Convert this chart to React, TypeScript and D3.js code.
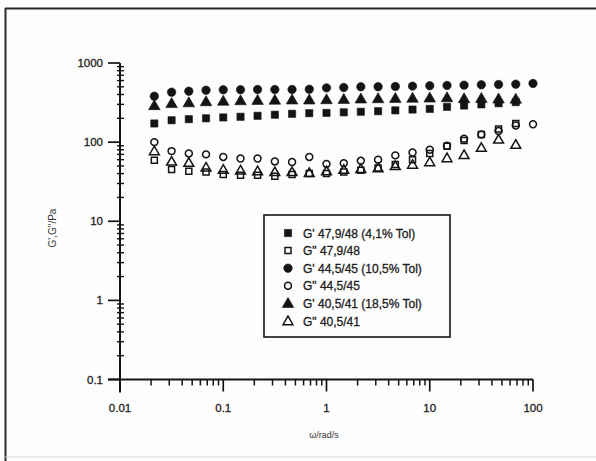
import React from "react";
import * as d3 from "d3";

// angular frequency (rad/s)
const omega = [0.0215, 0.0316, 0.0464, 0.0681, 0.1, 0.147, 0.215, 0.316, 0.464, 0.681, 1, 1.47, 2.15, 3.16, 4.64, 6.81, 10, 14.7, 21.5, 31.6, 46.4, 68.1, 100];

// G' 47,9/48 (filled squares)
const gp479 = [172, 189, 195, 200, 205, 209, 215, 222, 228, 232, 234, 238, 242, 246, 252, 258, 263, 279, 290, 300, 310, 320];
// G'' 47,9/48 (open squares)
const gpp479 = [59, 45, 43, 42, 39, 38, 38, 37, 39, 40, 40, 42, 44, 47, 52, 60, 72, 89, 105, 125, 147, 172];
// G' 44,5/45 (filled circles)
const gp445 = [380, 428, 440, 453, 458, 460, 462, 462, 463, 465, 485, 490, 500, 502, 505, 510, 515, 520, 525, 530, 535, 540, 551];
// G'' 44,5/45 (open circles)
const gpp445 = [100, 77, 72, 70, 65, 62, 62, 57, 56, 65, 53, 54, 58, 60, 68, 74, 80, 90, 110, 125, 138, 162, 168];
// G' 40,5/41 (filled triangles)
const gp405 = [290, 308, 315, 325, 330, 335, 338, 340, 342, 342, 345, 348, 352, 355, 358, 360, 362, 365, 355, 358, 352, 350];
// G'' 40,5/41 (open triangles)
const gpp405 = [77, 57, 55, 48, 45, 44, 43, 42, 42, 41, 43, 45, 46, 47, 50, 52, 56, 63, 69, 85, 108, 93];

const legendLabels = [
  "G' 47,9/48 (4,1% Tol)",
  "G\" 47,9/48",
  "G' 44,5/45 (10,5% Tol)",
  "G\" 44,5/45",
  "G' 40,5/41 (18,5% Tol)",
  "G\" 40,5/41",
];

const xTicks = [0.01, 0.1, 1, 10, 100];
const xTickLabels = ["0.01", "0.1", "1", "10", "100"];
const yTicks = [0.1, 1, 10, 100, 1000];
const yTickLabels = ["0.1", "1", "10", "100", "1000"];

const xTitle = "\u03c9/rad/s";
const yTitle = "G',G\"/Pa";

type Shape = "square" | "circle" | "triangle";

const series: { values: number[]; shape: Shape; filled: boolean }[] = [
  { values: gp479, shape: "square", filled: true },
  { values: gpp479, shape: "square", filled: false },
  { values: gp445, shape: "circle", filled: true },
  { values: gpp445, shape: "circle", filled: false },
  { values: gp405, shape: "triangle", filled: true },
  { values: gpp405, shape: "triangle", filled: false },
];

const INK = "#141414";

function symbolPath(shape: Shape, filled: boolean): string {
  const t = shape === "square" ? d3.symbolSquare : shape === "circle" ? d3.symbolCircle : d3.symbolTriangle;
  const size = shape === "square" ? (filled ? 52 : 36) : shape === "circle" ? (filled ? 56 : 38) : filled ? 58 : 42;
  return d3.symbol().type(t).size(size)() as string;
}

function Marker({ x, y, shape, filled }: { x: number; y: number; shape: Shape; filled: boolean }) {
  const dy = shape === "triangle" ? 0.8 : 0;
  return (
    <path
      d={symbolPath(shape, filled)}
      transform={`translate(${x},${y + dy})`}
      fill={filled ? INK : "none"}
      stroke={INK}
      strokeWidth={filled ? 0.6 : 1.5}
    />
  );
}

export default function App() {
  const W = 596;
  const H = 461;
  const x = d3.scaleLog().domain([0.01, 100]).range([120, 533]);
  const y = d3.scaleLog().domain([0.1, 1000]).range([379.5, 63]);

  const xMinor = x.ticks().filter((v) => !xTicks.some((t) => Math.abs(t - v) / t < 1e-6));
  const yMinor = y.ticks().filter((v) => !yTicks.some((t) => Math.abs(t - v) / t < 1e-6));

  const x0 = x.range()[0];
  const yBase = y.range()[0];
  const font = "'Liberation Sans', Arial, sans-serif";
  const txtStroke = { stroke: "#222", strokeWidth: 0.3 };

  const lgX = 264;
  const lgY = 215;
  const lgW = 186;
  const lgH = 122;

  return (
    <div style={{ position: "absolute", left: 0, top: 0 }}>
      <svg width={W} height={H} viewBox={`0 0 ${W} ${H}`} style={{ display: "block", background: "#fff" }}>
        <rect x={0} y={0} width={W} height={H} fill="#fdfdfd" />
        {/* scanned frame */}
        <line x1={5} y1={8.5} x2={W} y2={8.5} stroke="#2a2a2a" strokeWidth={1.8} />
        <line x1={5.5} y1={8} x2={5.5} y2={H} stroke="#2a2a2a" strokeWidth={2} />
        <line x1={5} y1={457} x2={W} y2={457} stroke="#d4d4d4" strokeWidth={1} />

        {/* axes */}
        <line x1={x0} y1={y(1000)} x2={x0} y2={yBase + 13} stroke={INK} strokeWidth={2} />
        <line x1={x0 - 12} y1={yBase} x2={x(100)} y2={yBase} stroke={INK} strokeWidth={2} />

        {/* x ticks */}
        {xTicks.map((t) => (
          <line key={"xM" + t} x1={x(t)} x2={x(t)} y1={yBase} y2={yBase + 12} stroke={INK} strokeWidth={1.7} />
        ))}
        {xMinor.map((t) => (
          <line key={"xm" + t} x1={x(t)} x2={x(t)} y1={yBase} y2={yBase + 6} stroke={INK} strokeWidth={1.5} />
        ))}
        {xTicks.map((t, i) => (
          <text key={"xl" + t} x={x(t)} y={412} textAnchor="middle" fontFamily={font} fontSize={11.5} fill="#222" {...txtStroke}>
            {xTickLabels[i]}
          </text>
        ))}

        {/* y ticks */}
        {yTicks.map((t) => (
          <line key={"yM" + t} x1={x0 - 12} x2={x0} y1={y(t)} y2={y(t)} stroke={INK} strokeWidth={1.7} />
        ))}
        {yMinor.map((t) => (
          <line key={"ym" + t} x1={x0 - 3} x2={x0 + 4} y1={y(t)} y2={y(t)} stroke={INK} strokeWidth={1.4} />
        ))}
        {yTicks.map((t, i) => (
          <text key={"yl" + t} x={103} y={y(t) + 4} textAnchor="end" fontFamily={font} fontSize={11.5} fill="#222" {...txtStroke}>
            {yTickLabels[i]}
          </text>
        ))}

        {/* axis titles */}
        <text x={W / 2 + 26} y={438} textAnchor="middle" fontFamily={font} fontSize={9} fill="#333">
          {xTitle}
        </text>
        <text
          transform={`translate(56,228) rotate(-90)`}
          textAnchor="middle"
          fontFamily={font}
          fontSize={10}
          fill="#333"
        >
          {yTitle}
        </text>

        {/* data */}
        {series.map((s, si) => (
          <g key={"s" + si}>
            {s.values.map((v, i) => (
              <Marker key={i} x={x(omega[i])} y={y(v)} shape={s.shape} filled={s.filled} />
            ))}
          </g>
        ))}

        {/* legend */}
        <rect x={lgX} y={lgY} width={lgW} height={lgH} fill="none" stroke={INK} strokeWidth={1.6} />
        {series.map((s, i) => {
          const cy = 233 + i * 17.6;
          return (
            <g key={"lg" + i}>
              <Marker x={288} y={cy} shape={s.shape} filled={s.filled} />
              <text x={303} y={cy + 4.5} fontFamily={font} fontSize={12} fill="#1a1a1a" {...txtStroke}>
                {legendLabels[i]}
              </text>
            </g>
          );
        })}
      </svg>
    </div>
  );
}
